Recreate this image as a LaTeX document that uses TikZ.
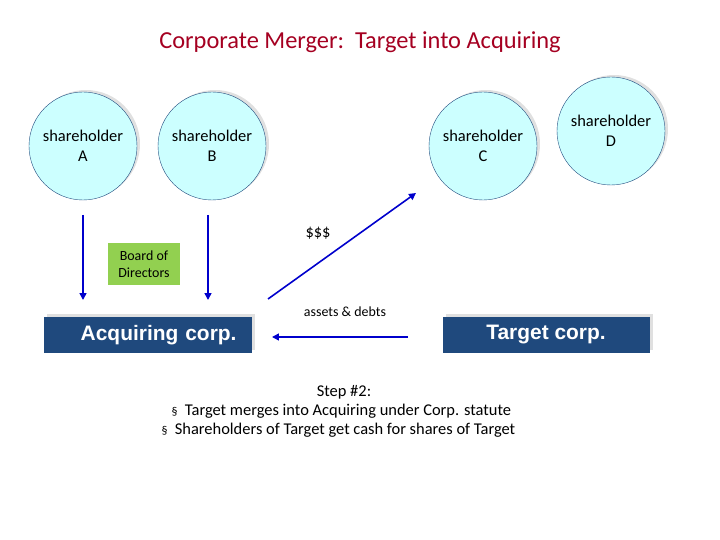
\documentclass[tikz,border=0pt]{standalone}
\usepackage{fontspec}
\setmainfont{Carlito}
\newfontfamily\arialf{Liberation Sans}
\usetikzlibrary{arrows.meta}
\definecolor{navy}{HTML}{1F497D}
\definecolor{circ}{HTML}{CCFFFF}
\definecolor{brd}{HTML}{92D050}
\definecolor{ttl}{HTML}{A50021}
\definecolor{arr}{HTML}{0000CC}
\begin{document}
\begin{tikzpicture}[x=1bp,y=-1bp,
 sh/.style={circle,draw=navy,fill=circ,minimum size=108bp,inner sep=0pt,align=center,font=\fontsize{16.5}{20}\selectfont},
 shad/.style={circle,fill=black!12,minimum size=108bp},
 corp/.style={fill=navy,text=white,minimum width=207bp,minimum height=36bp,font=\arialf\bfseries\fontsize{21}{24}\selectfont},
 cshad/.style={fill=black!12,minimum width=207bp,minimum height=36bp},
 ar/.style={draw=arr,line width=1.6pt,-{Triangle[length=7pt,width=7pt]}},
 tx/.style={font=\fontsize{16.5}{20}\selectfont}]
\useasboundingbox (0,0) rectangle (720,540);
\node[font=\fontsize{24.5}{28}\selectfont,text=ttl] (t) at (360,42) {Corporate Merger:\ \ Target into Acquiring};
\foreach \n/\x/\y/\l in {A/83/146/A,B/212/146/B,C/483/146/C,D/611/131/D}{
 \node[shad] at (\x+3,\y-2) {};
 \node[sh] (\n) at (\x,\y) {shareholder\\\l};
}
\node[cshad] at (151,332) {};
\node[corp,text width=177bp,align=right] (acq) at (148,335) {Acquiring corp.};
\node[cshad] at (549,332) {};
\node[corp] (tgt) at (546,335) {Target corp.};
\node[fill=brd,minimum width=72bp,minimum height=41bp,inner sep=1pt,align=center,font=\fontsize{14}{17}\selectfont] (bod) at (144,264) {Board of\\Directors};
\coordinate (a1) at (83,215); \coordinate (a2) at (83,300);
\coordinate (b1) at (208,215); \coordinate (b2) at (208,300);
\draw[ar] (a1) -- (a2);
\draw[ar] (b1) -- (b2);
\coordinate (d1) at (268,299); \coordinate (d2) at (416,193);
\draw[ar] (d1) -- (d2);
\coordinate (h1) at (408,337); \coordinate (h2) at (272,337);
\draw[ar] (h1) -- (h2);
\node[tx] (m) at (318,233) {\$\$\$};
\node[font=\fontsize{14}{17}\selectfont] (ad) at (345,312) {assets \& debts};
\node[tx] (s) at (344,392) {Step \#2:};
\node[tx,anchor=west] (l1) at (168,411) {{\fontsize{12}{14}\selectfont §}\ \ Target merges into Acquiring under Corp. statute};
\node[tx,anchor=west] (l2) at (158,430) {{\fontsize{12}{14}\selectfont §}\ \ Shareholders of Target get cash for shares of Target};
\end{tikzpicture}
\end{document}
